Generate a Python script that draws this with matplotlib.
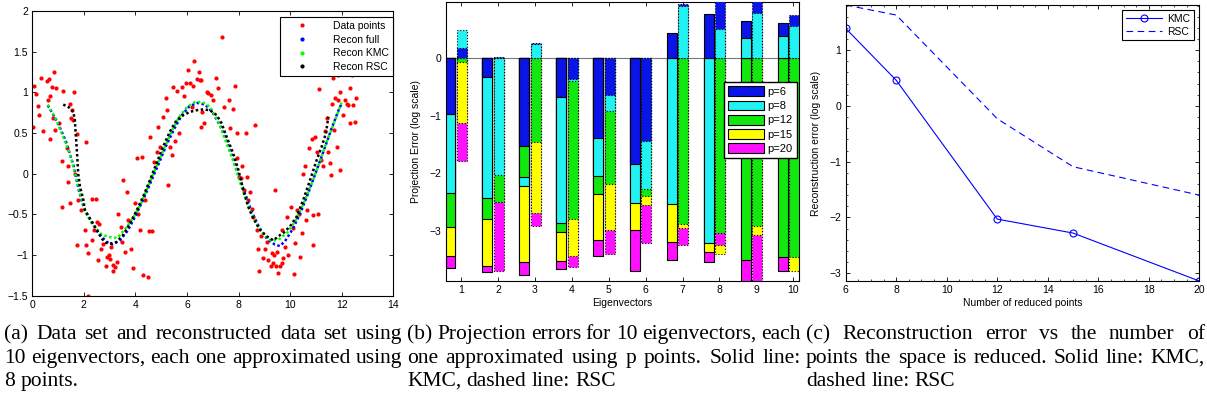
import matplotlib
matplotlib.use("Agg")
import matplotlib.pyplot as plt
from matplotlib.lines import Line2D
from matplotlib.patches import Patch
from matplotlib.ticker import AutoMinorLocator

plt.rcParams['font.family'] = ['Liberation Sans', 'DejaVu Sans']
plt.rcParams['font.size'] = 7.5

W, H = 1207, 404

# ---- panel (a): data set and reconstructions
data_x = [0.08, 0.14, 0.04, 0.21, 0.27, 0.32, 0.43, 0.56, 0.66, 0.84, 0.75, 0.91, 1.18, 0.69,
          0.62, 0.69, 0.81, 0.88, 1.62, 1.14, 1.15, 1.33, 1.40, 1.49, 1.59, 1.72, 2.07, 1.37,
          1.46, 1.67, 1.78, 1.89, 1.72, 2.04, 2.08, 2.17, 2.30, 2.46, 2.17, 2.31, 2.41, 2.49,
          2.56, 2.65, 2.75, 2.86, 2.88, 2.97, 3.04, 3.12, 3.14, 3.20, 3.27, 3.34, 3.43, 3.47,
          3.53, 3.59, 3.66, 3.72, 3.83, 3.92, 3.98, 4.05, 4.11, 4.18, 4.24, 4.30, 4.37, 4.50,
          4.54, 4.63, 4.56, 4.72, 4.82, 4.95, 4.88, 5.08, 5.17, 5.24, 5.34, 5.40, 5.27, 5.47,
          5.60, 5.70, 5.79, 5.88, 5.96, 6.05, 6.11, 6.18, 6.24, 6.28, 6.37, 6.46, 6.50, 6.55,
          6.60, 6.66, 6.54, 6.76, 6.83, 6.93, 7.02, 7.12, 7.21, 7.34, 7.43, 7.64, 7.79, 7.88,
          7.66, 7.92, 7.95, 8.03, 8.12, 8.22, 8.29, 8.31, 8.38, 8.44, 8.51, 8.57, 8.64, 8.70,
          8.76, 8.80, 8.87, 8.96, 9.02, 9.09, 9.15, 9.24, 9.28, 9.32, 9.37, 9.41, 9.45, 9.50,
          9.54, 9.60, 9.67, 9.73, 9.81, 9.86, 9.92, 10.02, 10.10, 10.16, 10.25, 10.34, 10.38,
          10.44, 10.51, 10.57, 10.61, 10.66, 10.74, 10.83, 10.87, 10.90, 10.96, 11.03, 11.09,
          11.13, 11.18, 11.26, 11.35, 11.41, 11.48, 11.54, 11.57, 11.63, 11.70, 11.74, 11.80,
          11.87, 11.93, 11.93, 12.06, 12.12, 12.19, 12.25, 12.32, 12.32, 12.38, 12.45, 12.51,
          12.55, 11.67, 11.87, 1.53, 1.46, 1.03, 2.60, 3.00, 5.55, 8.10, 9.70, 10.20]
data_y = [1.08, 0.98, 0.58, 0.83, 0.72, 1.18, 0.53, 1.14, 1.16, 1.25, 1.06, 1.05, 1.02, 0.96,
          0.91, 0.43, 0.68, 0.54, 1.00, 0.15, -0.41, 0.31, 0.09, 0.69, 0.66, 0.49, 0.39, -0.10,
          -0.36, 0.00, -0.32, -0.45, -0.88, -0.69, -0.88, -0.98, -0.31, -0.31, -1.50, -0.82,
          -0.69, -0.59, -1.06, -0.92, -0.86, -1.14, -1.02, -1.00, -0.90, -1.12, -1.20, -1.15,
          -1.08, -0.49, -0.65, -0.84, -0.08, -0.96, -0.22, -0.57, -0.92, -1.16, -0.36, 0.19,
          -0.49, -0.69, 0.21, -1.25, -0.32, -1.27, -0.70, -0.71, 0.45, 0.14, 0.27, 0.33, 0.58,
          0.70, 0.93, 0.78, 0.33, 0.23, -0.14, 1.06, 1.02, 0.50, 1.06, 0.95, 1.12, 1.28, 1.11,
          0.82, 1.08, 1.39, 1.16, 1.25, 1.15, 1.15, 0.76, 0.62, 0.58, 1.01, 0.99, 0.97, 0.91,
          1.18, 1.05, 1.68, 0.82, 0.90, 0.79, 1.08, 0.56, 0.50, 0.19, -0.04, 0.09, -0.20, 0.50,
          -0.04, -0.32, -0.22, -0.43, -0.53, 0.60, -0.69, -0.92, -1.20, -0.77, -1.04, -0.92,
          -0.84, -1.06, -1.14, -0.98, -1.10, -1.00, -0.20, -1.14, -0.96, -1.22, -1.14, -0.69,
          -1.04, -0.90, -0.53, -1.00, -0.41, -0.67, -1.23, -0.45, -0.49, -1.02, -0.73, 0.00,
          0.09, -0.57, -0.45, 0.31, 0.43, -0.88, -0.51, 0.45, 0.27, -0.49, 1.04, 0.17, 0.09,
          0.52, 0.68, 0.27, 0.13, -0.02, 0.86, 0.54, 0.93, 0.33, 0.91, 1.00, 0.04, 0.72, 0.91,
          0.86, 0.84, 1.05, 0.62, 1.21, 0.84, 0.63, 0.93, 1.18, 1.21, 0.78, 0.86, 0.62, -0.62,
          -1.05, 0.40, -0.05, -1.10, -0.85]

full_x = [0.6, 1.0, 1.3, 1.6, 1.8, 2.0, 2.3, 2.6, 2.9, 3.1, 3.4, 3.7, 4.0, 4.3, 4.6, 4.9, 5.2,
          5.5, 5.8, 6.1, 6.4, 6.7, 7.0, 7.3, 7.6, 7.9, 8.2, 8.5, 8.8, 9.1, 9.4, 9.6, 9.8, 10.1,
          10.4, 10.7, 11.0, 11.3, 11.6, 11.9, 12.0]
full_y = [0.84, 0.62, 0.40, 0.10, -0.20, -0.42, -0.60, -0.75, -0.84, -0.87, -0.82, -0.70,
          -0.52, -0.32, -0.10, 0.12, 0.35, 0.55, 0.72, 0.83, 0.87, 0.85, 0.75, 0.58, 0.35, 0.08,
          -0.20, -0.46, -0.66, -0.80, -0.87, -0.89, -0.83, -0.68, -0.48, -0.24, 0.02, 0.28,
          0.55, 0.80, 0.86]

kmc_x = [0.6, 0.9, 1.2, 1.5, 1.7, 1.9, 2.1, 2.4, 2.7, 3.0, 3.3, 3.6, 3.9, 4.2, 4.5, 4.8, 5.1,
         5.4, 5.7, 6.0, 6.3, 6.6, 6.9, 7.2, 7.5, 7.8, 8.1, 8.4, 8.7, 9.0, 9.3, 9.6, 9.9, 10.2,
         10.5, 10.8, 11.1, 11.4, 11.7, 12.0]
kmc_y = [0.85, 0.68, 0.45, 0.20, -0.05, -0.30, -0.50, -0.65, -0.75, -0.78, -0.79, -0.68,
         -0.55, -0.38, -0.15, 0.08, 0.30, 0.52, 0.70, 0.82, 0.88, 0.88, 0.82, 0.65, 0.40, 0.15,
         -0.15, -0.42, -0.62, -0.76, -0.83, -0.80, -0.72, -0.58, -0.38, -0.15, 0.10, 0.38,
         0.62, 0.88]

rsc_x = [1.20, 1.40, 1.59, 1.65, 1.68, 1.72, 1.75, 1.78, 1.85, 1.98, 2.04, 2.62, 2.70, 2.86,
         3.01, 3.27, 3.53, 3.79, 4.05, 4.30, 4.56, 4.82, 5.07, 5.34, 5.60, 5.86, 6.11, 6.37,
         6.63, 6.89, 7.15, 7.34, 7.54, 7.79, 7.99, 8.18, 8.38, 8.57, 8.83, 9.09, 9.35, 9.54,
         9.73, 9.99, 10.25, 10.51, 10.77, 11.03, 11.22, 11.39, 11.48]
rsc_y = [0.85, 0.82, 0.76, 0.66, 0.50, 0.33, 0.17, 0.00, -0.16, -0.32, -0.45, -0.75, -0.80,
         -0.85, -0.86, -0.84, -0.75, -0.61, -0.45, -0.28, -0.08, 0.13, 0.33, 0.52, 0.66, 0.72,
         0.76, 0.78, 0.79, 0.78, 0.72, 0.62, 0.45, 0.25, 0.05, -0.20, -0.41, -0.55, -0.69,
         -0.77, -0.82, -0.77, -0.73, -0.65, -0.53, -0.32, -0.08, 0.17, 0.33, 0.50, 0.70]

# ---- panel (b): projection errors (log10), one list per p, index = eigenvector
# None = bar not visible in the picture
eigvecs = [1, 2, 3, 4, 5, 6, 7, 8, 9, 10]
p_labels = ['p=6', 'p=8', 'p=12', 'p=15', 'p=20']
p_colors = ['#0a14e6', '#22f2f2', '#10e810', '#ffff00', '#ff10ff']
kmc_err = [
    [-0.97, -0.32, -1.53, -0.67, -1.39, -1.84, 0.45, 0.77, 0.66, 0.61],
    [-2.35, -2.43, -2.22, -2.87, -2.05, -2.52, -2.54, -3.22, 0.36, 0.39],
    [-2.93, -2.80, -2.06, -3.02, -2.37, None, None, None, -3.52, -3.47],
    [-3.44, -3.62, -3.54, -3.53, -3.17, -2.99, -3.20, -3.38, None, None],
    [-3.66, -3.73, -3.78, -3.67, -3.45, -3.70, -3.51, -3.55, -4.20, -3.71],
]
rsc_err = [
    [0.19, 0.02, 0.27, -0.36, -0.64, -1.44, 0.95, 1.20, 1.20, 0.75],
    [0.49, -2.04, 0.25, -0.39, -0.92, -2.28, 0.91, 0.52, 0.80, 0.56],
    [-0.07, -2.50, -1.45, -2.80, -2.19, -2.40, -2.88, -3.05, -2.92, -3.47],
    [-1.13, -2.51, -2.70, -3.44, -2.99, -2.55, -2.96, -3.41, -3.08, -3.71],
    [-1.78, -3.71, -2.92, -3.64, -3.41, -3.21, -3.25, -3.26, -4.20, None],
]

# ---- panel (c): reconstruction error (log10)
n_points = [6, 8, 12, 15, 20]
recon_kmc = [1.39, 0.46, -2.03, -2.28, -3.14]
recon_rsc = [1.81, 1.63, -0.23, -1.09, -1.60]

captions = [
    (4, 402, ["(a) Data set and reconstructed data set using",
              "10 eigenvectors, each one approximated using",
              "8 points."]),
    (407, 801, ["(b) Projection errors for 10 eigenvectors, each",
                "one approximated using p points.  Solid line:",
                "KMC, dashed line: RSC"]),
    (806, 1205, ["(c)  Reconstruction  error  vs  the  number  of",
                 "points the space is reduced. Solid line: KMC,",
                 "dashed line: RSC"]),
]

fig = plt.figure(figsize=(W / 100, H / 100), dpi=100)


def px_axes(l, t, r, b):
    return fig.add_axes([l / W, 1 - b / H, (r - l) / W, (b - t) / H])


def matlab_box(ax):
    for s in ax.spines.values():
        s.set_linewidth(0.8)
    ax.tick_params(direction='in', top=True, right=True, length=3, width=0.6,
                   labelsize=7.5, pad=3)


# (a)
ax = px_axes(32.3, 11, 393.3, 295.7)
ax.plot(data_x, data_y, ls='none', marker='.', ms=4, color='red', zorder=2)
ax.plot(full_x, full_y, ls=(0, (1, 1)), lw=1.8, color='blue', zorder=3)
ax.plot(kmc_x, kmc_y, ls=(0, (1, 1)), lw=1.8, color='#00ff00', zorder=4)
ax.plot(rsc_x, rsc_y, ls=(0, (1, 1)), lw=1.8, color='black', zorder=5)
ax.set_xlim(0, 14)
ax.set_ylim(-1.5, 2)
ax.set_xticks(range(0, 15, 2))
ax.set_yticks([-1.5, -1, -0.5, 0, 0.5, 1, 1.5, 2])
ax.set_yticklabels(['\u22121.5', '\u22121', '\u22120.5', '0', '0.5', '1', '1.5', '2'])
matlab_box(ax)
handles = [Line2D([], [], ls='none', marker='.', ms=4, color=c)
           for c in ['red', 'blue', '#00ff00', 'black']]
leg = ax.legend(handles, ['Data points', 'Recon full', 'Recon KMC', 'Recon RSC'],
                loc='upper right', bbox_to_anchor=(1.0, 0.98), borderaxespad=0,
                fancybox=False, framealpha=1, edgecolor='black', fontsize=7.5,
                handlelength=3.5, labelspacing=0.35, handletextpad=1.2, borderpad=0.4)
leg.get_frame().set_linewidth(0.8)

# (b)
ax = px_axes(445.7, 1.7, 799, 281)
ax.axhline(0, color='#777777', lw=0.8, zorder=1)
for group, offset, ls in ((kmc_err, -0.29, '-'), (rsc_err, 0.02, ':')):
    for k, ev in enumerate(eigvecs):
        vals = [(p, group[p][k]) for p in range(len(p_labels)) if group[p][k] is not None]
        # larger errors behind, smaller in front
        vals.sort(key=lambda pv: -abs(pv[1]))
        for rank, (p, v) in enumerate(vals):
            ax.bar(ev + offset, v, width=0.27, color=p_colors[p], edgecolor='black',
                   linewidth=0.8, linestyle=ls, zorder=2 + rank)
ax.set_xlim(0.58, 10.155)
ax.set_ylim(-3.88, 0.99)
ax.set_xticks(eigvecs)
ax.set_yticks([-3, -2, -1, 0])
ax.set_yticklabels(['\u22123', '\u22122', '\u22121', '0'])
ax.set_xlabel('Eigenvectors', fontsize=7.5, labelpad=2)
ax.set_ylabel('Projection Error (log scale)', fontsize=7.5, labelpad=6)
matlab_box(ax)
handles = [Patch(facecolor=c, edgecolor='black', linewidth=0.8) for c in p_colors]
leg = ax.legend(handles, p_labels, loc='upper right', bbox_to_anchor=(0.994, 0.7125),
                borderaxespad=0, fancybox=False, framealpha=1, edgecolor='black',
                fontsize=8, handlelength=3.2, handleheight=1.0, labelspacing=0.3,
                handletextpad=0.3, borderpad=0.4)
leg.get_frame().set_linewidth(1.0)
leg.set_zorder(20)

# (c)
ax = px_axes(845.7, 5, 1199.3, 281)
ax.plot(n_points, recon_kmc, '-o', color='blue', lw=0.8, ms=5, mfc='none', mew=0.8,
        label='KMC')
ax.plot(n_points, recon_rsc, '--', color='blue', lw=0.8, dashes=(6, 4), label='RSC')
ax.set_xlim(6, 20)
ax.set_ylim(-3.14, 1.81)
ax.set_xticks(range(6, 21, 2))
ax.set_yticks([-3, -2, -1, 0, 1])
ax.set_yticklabels(['\u22123', '\u22122', '\u22121', '0', '1'])
ax.set_xlabel('Number of reduced points', fontsize=7.5, labelpad=2)
ax.set_ylabel('Reconstruction error (log scale)', fontsize=7.5, labelpad=6)
matlab_box(ax)
ax.xaxis.set_minor_locator(AutoMinorLocator(4))
ax.yaxis.set_minor_locator(AutoMinorLocator(5))
ax.tick_params(which='minor', direction='in', top=True, right=True, length=1.5, width=0.5)
leg = ax.legend(loc='upper right', bbox_to_anchor=(0.985, 0.982), borderaxespad=0,
                fancybox=False, framealpha=1, edgecolor='black', fontsize=7.5,
                handlelength=3.5, labelspacing=0.3, handletextpad=0.5, borderpad=0.35)
leg.get_frame().set_linewidth(0.8)

# captions, justified like the LaTeX subcaptions
CAP_SIZE = 15.5
rend = fig.canvas.get_renderer()
baselines = [339, 363, 386]
for x0, x1, lines in captions:
    for i, line in enumerate(lines):
        words = line.split()
        texts = [fig.text(0, 1 - baselines[i] / H, w, fontsize=CAP_SIZE,
                          family=['Liberation Serif', 'DejaVu Serif'], va='baseline')
                 for w in words]
        widths = [t.get_window_extent(renderer=rend).width for t in texts]
        space = CAP_SIZE * 100 / 72 * 0.25
        if i < len(lines) - 1 and len(words) > 1:
            space = (x1 - x0 - sum(widths)) / (len(words) - 1)
        x = x0
        for t, wd in zip(texts, widths):
            t.set_x(x / W)
            x += wd + space

fig.savefig('out.png', dpi=100)
